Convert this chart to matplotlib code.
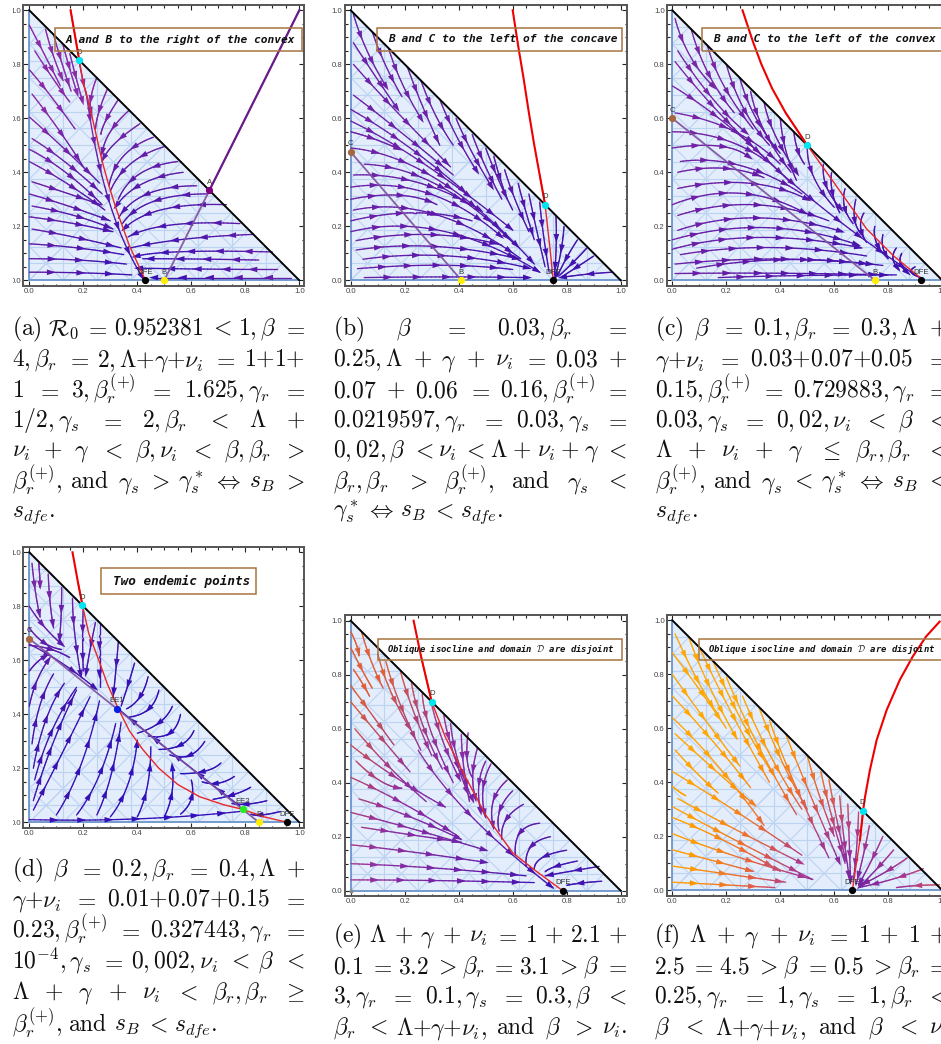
import matplotlib
matplotlib.use('Agg')
import matplotlib.pyplot as plt
import numpy as np
from matplotlib.collections import LineCollection
from matplotlib.colors import LinearSegmentedColormap
from matplotlib.patches import Polygon, Rectangle

W, H = 941, 1044
plt.rcParams['mathtext.fontset'] = 'cm'

# streamlines: start x, y, control x, y, end x, y
streams_a = [
    (0.0,0.945,0.06,0.83,0.115,0.72), (0.02,0.85,0.09,0.74,0.15,0.66), (0.0,0.78,0.07,0.70,0.17,0.56),
    (0.06,0.93,0.085,0.83,0.125,0.74), (0.09,0.91,0.12,0.80,0.155,0.70), (0.125,0.87,0.15,0.78,0.175,0.70),
    (0.15,0.84,0.17,0.76,0.195,0.67), (0.185,0.81,0.20,0.72,0.23,0.62), (0.25,0.75,0.22,0.68,0.225,0.60),
    (0.29,0.71,0.25,0.62,0.245,0.56), (0.33,0.67,0.27,0.58,0.265,0.54), (0.37,0.63,0.28,0.55,0.27,0.47),
    (0.41,0.58,0.29,0.50,0.27,0.44), (0.46,0.53,0.32,0.48,0.295,0.35), (0.50,0.495,0.35,0.45,0.30,0.33),
    (0.55,0.44,0.38,0.42,0.33,0.30), (0.57,0.40,0.40,0.38,0.325,0.28), (0.62,0.35,0.40,0.35,0.33,0.23),
    (0.66,0.32,0.42,0.32,0.345,0.21), (0.73,0.28,0.45,0.29,0.35,0.19), (0.78,0.21,0.48,0.225,0.365,0.16),
    (0.83,0.17,0.55,0.16,0.375,0.12), (0.9,0.105,0.5,0.115,0.40,0.09), (0.85,0.075,0.6,0.08,0.42,0.08),
    (0.92,0.04,0.7,0.04,0.40,0.045), (0.97,0.01,0.68,0.01,0.46,0.01),
    (0.01,0.69,0.12,0.55,0.20,0.42), (0.0,0.605,0.12,0.50,0.26,0.36), (0.01,0.525,0.13,0.45,0.27,0.32),
    (0.0,0.485,0.13,0.42,0.27,0.28), (0.0,0.44,0.15,0.36,0.28,0.26), (0.01,0.365,0.15,0.32,0.267,0.279),
    (0.0,0.32,0.17,0.27,0.30,0.22), (0.01,0.275,0.18,0.245,0.31,0.19), (0.0,0.235,0.16,0.215,0.31,0.18),
    (0.01,0.19,0.18,0.16,0.34,0.12), (0.0,0.135,0.18,0.125,0.35,0.095), (0.0,0.08,0.18,0.08,0.36,0.06),
    (0.0,0.03,0.2,0.03,0.38,0.02), (0.21,0.70,0.27,0.25,0.42,0.01),
]
streams_b = [
    (0.01,0.985,0.05,0.85,0.13,0.72), (0.01,0.88,0.08,0.77,0.17,0.64), (0.08,0.92,0.12,0.80,0.19,0.68),
    (0.14,0.86,0.18,0.73,0.26,0.60), (0.21,0.79,0.26,0.65,0.33,0.50), (0.26,0.74,0.31,0.60,0.38,0.50),
    (0.33,0.67,0.38,0.54,0.47,0.40), (0.39,0.60,0.44,0.48,0.52,0.35), (0.45,0.54,0.49,0.43,0.56,0.30),
    (0.50,0.49,0.54,0.38,0.60,0.26), (0.53,0.46,0.55,0.38,0.58,0.30), (0.57,0.41,0.60,0.31,0.66,0.18),
    (0.62,0.36,0.64,0.28,0.68,0.15), (0.66,0.32,0.68,0.22,0.72,0.05), (0.70,0.29,0.71,0.18,0.735,0.03),
    (0.76,0.24,0.765,0.14,0.755,0.02), (0.79,0.20,0.785,0.12,0.76,0.02), (0.84,0.15,0.80,0.09,0.765,0.015),
    (0.875,0.12,0.83,0.07,0.77,0.015), (0.90,0.09,0.84,0.05,0.78,0.012), (0.97,0.03,0.88,0.025,0.79,0.012),
    (0.01,0.80,0.15,0.64,0.37,0.42), (0.01,0.686,0.15,0.58,0.38,0.39), (0.0,0.633,0.2,0.52,0.42,0.33),
    (0.0,0.59,0.25,0.47,0.60,0.186), (0.0,0.55,0.08,0.53,0.17,0.49), (0.0,0.49,0.32,0.46,0.68,0.06),
    (0.05,0.43,0.32,0.42,0.60,0.14), (0.01,0.39,0.25,0.40,0.48,0.26), (0.0,0.345,0.3,0.39,0.56,0.16),
    (0.0,0.30,0.2,0.34,0.32,0.28), (0.01,0.26,0.3,0.32,0.63,0.08), (0.0,0.22,0.25,0.28,0.45,0.22),
    (0.0,0.18,0.33,0.26,0.70,0.03), (0.02,0.147,0.3,0.20,0.56,0.13), (0.02,0.112,0.3,0.155,0.62,0.08),
    (0.045,0.078,0.35,0.12,0.66,0.045), (0.025,0.043,0.35,0.07,0.60,0.04), (0.05,0.01,0.35,0.015,0.66,0.01),
]
streams_c = [
    (0.17,0.01,0.45,0.02,0.83,0.02), (0.01,0.025,0.35,0.03,0.8,0.02), (0.01,0.06,0.40,0.10,0.78,0.055),
    (0.09,0.045,0.4,0.10,0.73,0.06), (0.03,0.095,0.35,0.15,0.72,0.09), (0.0,0.115,0.3,0.2,0.70,0.12),
    (0.0,0.15,0.35,0.25,0.69,0.13), (0.02,0.185,0.3,0.28,0.63,0.18), (0.02,0.24,0.3,0.33,0.58,0.22),
    (0.0,0.28,0.25,0.38,0.49,0.25), (0.02,0.34,0.3,0.40,0.50,0.30), (0.02,0.40,0.2,0.44,0.34,0.38),
    (0.03,0.44,0.25,0.47,0.48,0.32), (0.0,0.49,0.2,0.52,0.28,0.46), (0.0,0.55,0.2,0.55,0.35,0.44),
    (0.01,0.62,0.25,0.58,0.40,0.43), (0.0,0.72,0.2,0.6,0.44,0.36), (0.01,0.81,0.35,0.38,0.90,0.02),
    (0.02,0.85,0.15,0.65,0.27,0.55), (0.01,0.97,0.05,0.82,0.15,0.72), (0.07,0.93,0.12,0.75,0.23,0.62),
    (0.13,0.87,0.17,0.72,0.30,0.56), (0.20,0.80,0.25,0.62,0.36,0.50), (0.25,0.75,0.29,0.60,0.40,0.47),
    (0.29,0.70,0.32,0.55,0.44,0.40), (0.34,0.66,0.36,0.55,0.46,0.40), (0.40,0.60,0.41,0.48,0.46,0.37),
    (0.45,0.55,0.46,0.47,0.49,0.43), (0.50,0.49,0.50,0.38,0.60,0.27), (0.56,0.43,0.55,0.35,0.62,0.27),
    (0.59,0.40,0.58,0.33,0.62,0.25), (0.64,0.34,0.62,0.27,0.67,0.21), (0.68,0.30,0.66,0.22,0.70,0.17),
    (0.71,0.25,0.68,0.2,0.72,0.14), (0.75,0.20,0.74,0.15,0.78,0.10), (0.78,0.17,0.77,0.12,0.80,0.08),
    (0.83,0.12,0.80,0.08,0.84,0.04), (0.85,0.10,0.83,0.06,0.87,0.03), (0.90,0.05,0.86,0.03,0.92,0.01),
]
streams_d = [
    (0.01,0.96,0.02,0.85,0.04,0.76), (0.035,0.96,0.04,0.90,0.04,0.87), (0.07,0.92,0.075,0.8,0.09,0.72),
    (0.12,0.87,0.12,0.75,0.11,0.66), (0.16,0.83,0.16,0.72,0.19,0.55), (0.20,0.80,0.195,0.68,0.20,0.56),
    (0.245,0.74,0.22,0.62,0.21,0.55), (0.26,0.74,0.26,0.60,0.26,0.50), (0.33,0.67,0.32,0.55,0.31,0.46),
    (0.39,0.59,0.37,0.52,0.34,0.43), (0.0,0.80,0.05,0.72,0.12,0.66), (0.0,0.72,0.05,0.65,0.12,0.64),
    (0.0,0.655,0.08,0.65,0.15,0.61), (0.0,0.66,0.12,0.6,0.24,0.50), (0.78,0.06,0.52,0.26,0.33,0.42),
    (0.0,0.43,0.02,0.53,0.07,0.60), (0.0,0.56,0.03,0.60,0.06,0.615), (0.01,0.29,0.03,0.45,0.09,0.55),
    (0.015,0.20,0.05,0.40,0.13,0.515), (0.02,0.157,0.07,0.35,0.175,0.50), (0.015,0.08,0.08,0.30,0.175,0.49),
    (0.015,0.045,0.12,0.25,0.225,0.465), (0.10,0.027,0.2,0.18,0.26,0.45), (0.175,0.027,0.27,0.15,0.32,0.366),
    (0.25,0.027,0.31,0.15,0.34,0.37), (0.30,0.02,0.38,0.12,0.40,0.30), (0.40,0.02,0.45,0.12,0.45,0.28),
    (0.50,0.02,0.54,0.10,0.53,0.20), (0.56,0.03,0.62,0.08,0.60,0.157), (0.0,0.01,0.4,0.0,0.78,0.04),
    (0.44,0.54,0.42,0.45,0.36,0.42), (0.48,0.49,0.46,0.40,0.37,0.39), (0.53,0.43,0.5,0.36,0.40,0.33),
    (0.56,0.40,0.54,0.3,0.44,0.32), (0.61,0.34,0.58,0.27,0.48,0.27), (0.65,0.30,0.6,0.22,0.52,0.25),
    (0.71,0.22,0.67,0.18,0.56,0.18), (0.76,0.17,0.70,0.13,0.64,0.15), (0.82,0.13,0.77,0.10,0.68,0.085),
    (0.88,0.08,0.8,0.06,0.75,0.07), (0.93,0.04,0.85,0.02,0.82,0.03),
]
streams_e = [
    (0.0,0.96,0.03,0.9,0.03,0.87), (0.04,0.96,0.07,0.85,0.12,0.75), (0.0,0.90,0.05,0.8,0.08,0.75),
    (0.01,0.82,0.05,0.76,0.07,0.72), (0.0,0.76,0.08,0.65,0.16,0.54), (0.0,0.70,0.1,0.58,0.22,0.44),
    (0.1,0.88,0.13,0.75,0.22,0.60), (0.13,0.85,0.17,0.7,0.26,0.52), (0.185,0.81,0.22,0.68,0.30,0.50),
    (0.225,0.77,0.25,0.62,0.34,0.45), (0.265,0.73,0.27,0.62,0.38,0.40), (0.30,0.69,0.33,0.56,0.40,0.42),
    (0.345,0.65,0.36,0.55,0.43,0.37), (0.37,0.62,0.38,0.5,0.45,0.34), (0.41,0.58,0.41,0.48,0.44,0.33),
    (0.435,0.585,0.42,0.47,0.45,0.42), (0.47,0.53,0.44,0.43,0.46,0.35), (0.50,0.48,0.46,0.40,0.48,0.30),
    (0.52,0.47,0.47,0.38,0.50,0.27), (0.58,0.41,0.50,0.34,0.53,0.23), (0.60,0.37,0.53,0.30,0.55,0.22),
    (0.64,0.32,0.55,0.27,0.56,0.19), (0.70,0.25,0.60,0.24,0.61,0.13), (0.74,0.20,0.64,0.18,0.65,0.09),
    (0.80,0.15,0.68,0.13,0.68,0.08), (0.84,0.11,0.74,0.09,0.72,0.07), (0.92,0.09,0.8,0.07,0.72,0.055),
    (0.93,0.035,0.85,0.03,0.80,0.02), (0.015,0.60,0.14,0.45,0.28,0.33), (0.0,0.54,0.15,0.42,0.35,0.31),
    (0.02,0.48,0.12,0.38,0.19,0.38), (0.0,0.42,0.2,0.33,0.40,0.20), (0.03,0.34,0.2,0.29,0.41,0.19),
    (0.0,0.29,0.2,0.24,0.50,0.15), (0.04,0.235,0.2,0.21,0.41,0.18), (0.0,0.17,0.2,0.15,0.50,0.105),
    (0.0,0.10,0.3,0.09,0.65,0.055), (0.0,0.04,0.3,0.04,0.68,0.03), (0.25,0.52,0.4,0.28,0.75,0.01),
]
streams_f = [
    (0.01,0.95,0.1,0.75,0.17,0.65), (0.0,0.88,0.12,0.72,0.2,0.60), (0.0,0.80,0.12,0.63,0.25,0.46),
    (0.0,0.72,0.15,0.56,0.29,0.38), (0.06,0.94,0.12,0.77,0.24,0.56), (0.1,0.9,0.2,0.68,0.36,0.40),
    (0.15,0.85,0.26,0.6,0.38,0.42), (0.2,0.79,0.3,0.55,0.46,0.28), (0.26,0.72,0.35,0.5,0.48,0.3),
    (0.32,0.68,0.4,0.47,0.5,0.3), (0.36,0.63,0.42,0.45,0.58,0.12), (0.42,0.58,0.48,0.42,0.62,0.1),
    (0.5,0.50,0.53,0.38,0.6,0.2), (0.55,0.44,0.58,0.3,0.64,0.1), (0.58,0.41,0.60,0.3,0.64,0.12),
    (0.62,0.35,0.63,0.22,0.655,0.05), (0.65,0.32,0.655,0.2,0.66,0.04), (0.69,0.29,0.685,0.15,0.67,0.03),
    (0.73,0.24,0.71,0.13,0.68,0.02), (0.78,0.2,0.74,0.11,0.69,0.02), (0.82,0.15,0.77,0.09,0.70,0.02),
    (0.87,0.12,0.8,0.07,0.72,0.03), (0.93,0.08,0.83,0.04,0.69,0.01), (0.99,0.02,0.9,0.02,0.83,0.01),
    (0.0,0.64,0.16,0.49,0.34,0.24), (0.01,0.58,0.15,0.45,0.3,0.32), (0.01,0.52,0.1,0.42,0.17,0.36),
    (0.0,0.44,0.2,0.32,0.48,0.13), (0.0,0.385,0.03,0.36,0.05,0.35), (0.02,0.34,0.2,0.24,0.48,0.1),
    (0.0,0.31,0.2,0.2,0.52,0.04), (0.0,0.27,0.2,0.19,0.4,0.07), (0.0,0.21,0.2,0.13,0.52,0.04),
    (0.0,0.15,0.15,0.11,0.3,0.07), (0.0,0.09,0.2,0.06,0.42,0.03), (0.0,0.03,0.2,0.02,0.38,0.01),
]

# red isoclines, from outside the triangle down to the DFE
red_a = [(0.153,1.0),(0.185,0.815),(0.20,0.73),(0.22,0.66),(0.245,0.55),(0.27,0.44),(0.295,0.35),(0.32,0.27),
         (0.345,0.20),(0.37,0.13),(0.40,0.065),(0.43,0.0)]
red_b = [(0.6,1.0),(0.62,0.87),(0.64,0.75),(0.66,0.62),(0.68,0.5),(0.70,0.39),(0.72,0.28),(0.73,0.19),(0.74,0.1),(0.75,0.0)]
red_c = [(0.26,1.0),(0.28,0.94),(0.30,0.88),(0.33,0.80),(0.37,0.71),(0.42,0.62),(0.5,0.5),(0.6,0.36),(0.72,0.19),
         (0.82,0.09),(0.93,0.0)]
red_d = [(0.16,1.0),(0.18,0.89),(0.197,0.803),(0.22,0.70),(0.25,0.62),(0.29,0.51),(0.33,0.42),(0.37,0.34),(0.42,0.27),
         (0.48,0.20),(0.55,0.14),(0.63,0.095),(0.72,0.065),(0.79,0.048),(0.87,0.02),(0.955,0.0)]
red_e = [(0.233,1.0),(0.26,0.87),(0.3,0.7),(0.35,0.57),(0.41,0.45),(0.5,0.28),(0.6,0.14),(0.69,0.07),(0.785,0.0)]
red_f = [(0.99,0.995),(0.94,0.94),(0.89,0.865),(0.843,0.78),(0.794,0.668),(0.757,0.557),(0.732,0.446),(0.714,0.347),
         (0.707,0.297),(0.695,0.186),(0.68,0.088),(0.667,0.0)]

# labelled points: name, x, y, colour
pts_a = [('D',0.185,0.815,'#00e5ee'),('A',0.667,0.333,'#800080'),('DFE',0.43,0.0,'black'),('B',0.5,0.0,'#ffee00')]
pts_b = [('D',0.72,0.28,'#00e5ee'),('C',0.0,0.475,'#a5673f'),('DFE',0.75,0.0,'black'),('B',0.41,0.0,'#ffee00')]
pts_c = [('D',0.5,0.5,'#00e5ee'),('C',0.0,0.6,'#a5673f'),('DFE',0.92,0.0,'black'),('B',0.75,0.0,'#ffee00')]
pts_d = [('D',0.197,0.803,'#00e5ee'),('C',0.0,0.68,'#a5673f'),('EE1',0.325,0.42,'#0a1ee0'),
         ('EE2',0.79,0.048,'#22ee22'),('DFE',0.955,0.0,'black'),('B',0.85,0.0,'#ffee00')]
pts_e = [('',0.0,0.0,'#8a8a8a'),('D',0.3,0.7,'#00e5ee'),('DFE',0.785,0.0,'black')]
pts_f = [('D',0.705,0.295,'#00e5ee'),('DFE',0.665,0.0,'black')]

purple_a = [(1.0,1.0),(0.667,0.333),(0.5,0.0)]
purple_b = [(0.0,0.475),(0.41,0.0)]
purple_c = [(0.0,0.6),(0.75,0.0)]
purple_d = [(0.0,0.68),(0.85,0.0)]

caption_a = [
    r"$\mathrm{(a)}$ $\mathcal{R}_0$ $=$ $0.952381$ $<$ $1,\beta$ $=$",
    r"$4,\beta_r$ $=$ $2,\Lambda{+}\gamma{+}\nu_i$ $=$ $1{+}1{+}$",
    r"$1$ $=$ $3,\beta_r^{(+)}$ $=$ $1.625,\gamma_r$ $=$",
    r"$1/2,\gamma_s$ $=$ $2,\beta_r$ $<$ $\Lambda$ $+$",
    r"$\nu_i$ $+$ $\gamma$ $<$ $\beta,\nu_i$ $<$ $\beta,\beta_r$ $>$",
    r"$\beta_r^{(+)},$ $\mathrm{and}$ $\gamma_s$ $>$ $\gamma_s^*$ $\Leftrightarrow$ $s_B$ $>$",
    r"$s_{dfe}.$",
]
caption_b = [
    r"$\mathrm{(b)}$ $\beta$ $=$ $0.03,\beta_r$ $=$",
    r"$0.25,\Lambda$ $+$ $\gamma$ $+$ $\nu_i$ $=$ $0.03$ $+$",
    r"$0.07$ $+$ $0.06$ $=$ $0.16,\beta_r^{(+)}$ $=$",
    r"$0.0219597,\gamma_r$ $=$ $0.03,\gamma_s$ $=$",
    r"$0,02,\beta$ $<$ $\nu_i$ $<$ $\Lambda$ $+$ $\nu_i$ $+$ $\gamma$ $<$",
    r"$\beta_r,\beta_r$ $>$ $\beta_r^{(+)},$ $\mathrm{and}$ $\gamma_s$ $<$",
    r"$\gamma_s^*$ $\Leftrightarrow$ $s_B$ $<$ $s_{dfe}.$",
]
caption_c = [
    r"$\mathrm{(c)}$ $\beta$ $=$ $0.1,\beta_r$ $=$ $0.3,\Lambda$ $+$",
    r"$\gamma{+}\nu_i$ $=$ $0.03{+}0.07{+}0.05$ $=$",
    r"$0.15,\beta_r^{(+)}$ $=$ $0.729883,\gamma_r$ $=$",
    r"$0.03,\gamma_s$ $=$ $0,02,\nu_i$ $<$ $\beta$ $<$",
    r"$\Lambda$ $+$ $\nu_i$ $+$ $\gamma$ $\leq$ $\beta_r,\beta_r$ $<$",
    r"$\beta_r^{(+)},$ $\mathrm{and}$ $\gamma_s$ $<$ $\gamma_s^*$ $\Leftrightarrow$ $s_B$ $<$",
    r"$s_{dfe}.$",
]
caption_d = [
    r"$\mathrm{(d)}$ $\beta$ $=$ $0.2,\beta_r$ $=$ $0.4,\Lambda$ $+$",
    r"$\gamma{+}\nu_i$ $=$ $0.01{+}0.07{+}0.15$ $=$",
    r"$0.23,\beta_r^{(+)}$ $=$ $0.327443,\gamma_r$ $=$",
    r"$10^{-4},\gamma_s$ $=$ $0,002,\nu_i$ $<$ $\beta$ $<$",
    r"$\Lambda$ $+$ $\gamma$ $+$ $\nu_i$ $<$ $\beta_r,\beta_r$ $\geq$",
    r"$\beta_r^{(+)},$ $\mathrm{and}$ $s_B$ $<$ $s_{dfe}.$",
]
caption_e = [
    r"$\mathrm{(e)}$ $\Lambda$ $+$ $\gamma$ $+$ $\nu_i$ $=$ $1$ $+$ $2.1$ $+$",
    r"$0.1$ $=$ $3.2$ $>$ $\beta_r$ $=$ $3.1$ $>$ $\beta$ $=$",
    r"$3,\gamma_r$ $=$ $0.1,\gamma_s$ $=$ $0.3,\beta$ $<$",
    r"$\beta_r$ $<$ $\Lambda{+}\gamma{+}\nu_i,$ $\mathrm{and}$ $\beta$ $>$ $\nu_i.$",
]
caption_f = [
    r"$\mathrm{(f)}$ $\Lambda$ $+$ $\gamma$ $+$ $\nu_i$ $=$ $1$ $+$ $1$ $+$",
    r"$2.5$ $=$ $4.5$ $>$ $\beta$ $=$ $0.5$ $>$ $\beta_r$ $=$",
    r"$0.25,\gamma_r$ $=$ $1,\gamma_s$ $=$ $1,\beta_r$ $<$",
    r"$\beta$ $<$ $\Lambda{+}\gamma{+}\nu_i,$ $\mathrm{and}$ $\beta$ $<$ $\nu_i$",
]

FAR_BLUE = ['#3510b5', '#5a1aa8', '#8a2ba8']
FAR_ORANGE = ['#6a1fa8', '#a8368f', '#e8653a', '#ff9a05', '#ffa805']
FAR_MIX = ['#3510b5', '#6a1fa8', '#8f2fa0', '#e0603a']

fig = plt.figure(figsize=(W / 100, H / 100), dpi=100)
renderer = fig.canvas.get_renderer()


def bezier(s, n=40):
    t = np.linspace(0, 1, n)[:, None]
    p0, c, p1 = np.array(s[:2]), np.array(s[2:4]), np.array(s[4:])
    return (1 - t)**2 * p0 + 2 * t * (1 - t) * c + t**2 * p1


def draw_triangle(ax):
    tri = Polygon([(0, 0), (1, 0), (0, 1)], closed=True, fc='#e3edfb', ec='none', zorder=1)
    ax.add_patch(tri)
    # region mesh
    segs = []
    for v in np.arange(0, 1, 1 / 16):
        segs.append([(0, v), (1, v)])
    for v in np.arange(0, 1, 1 / 8):
        segs.append([(v, 0), (v, 1)])
        segs.append([(v, 0), (v + 1, 1)])
        segs.append([(0, v), (1 - v, 1)])
        segs.append([(v, 0), (0, v)])
    mesh = LineCollection(segs, colors='#bdd3f2', linewidths=0.8, zorder=2)
    ax.add_collection(mesh)
    mesh.set_clip_path(tri)
    ax.plot([0, 0, 1], [1, 0, 0], color='#6a95cc', lw=1.3, zorder=3, solid_joinstyle='miter')
    ax.plot([0, 1], [1, 0], color='black', lw=1.4, zorder=6)


def draw_stream(ax, s, ref, scale, cmap):
    xy = bezier(s)
    mid = 0.5 * (xy[:-1] + xy[1:])
    d = np.hypot(mid[:, 0] - ref[0], mid[:, 1] - ref[1]) / scale
    cols = cmap(np.clip(d, 0, 1))
    segs = np.stack([xy[:-1], xy[1:]], axis=1)
    ax.add_collection(LineCollection(segs, colors=cols, linewidths=0.95, zorder=4, capstyle='round'))
    # arrowheads every so often along the line
    dist = np.r_[0, np.cumsum(np.hypot(*np.diff(xy, axis=0).T))]
    for a in np.arange(0.07, dist[-1], 0.105):
        i = min(np.searchsorted(dist, a), len(xy) - 2)
        v = xy[i + 1] - xy[i]
        v = v / np.hypot(*v)
        n = np.array([-v[1], v[0]])
        p = xy[i]
        head = [p + 0.028 * v, p - 0.006 * v + 0.0105 * n, p - 0.006 * v - 0.0105 * n]
        ax.add_patch(Polygon(head, closed=True, fc=cols[i], ec='none', zorder=5))


def draw_panel(x0, y0, frame, streams, red, pts, ref, scale, colors, purple=None, box=None):
    # x0, y0 = pixel of data (0, 0); frame = left, right, top, bottom pixels
    left, right, top, bottom = frame
    ax = fig.add_axes([left / W, 1 - bottom / H, (right - left) / W, (bottom - top) / H])
    ax.set_xlim((left - x0) / 270, (right - x0) / 270)
    ax.set_ylim((y0 - bottom) / 270, (y0 - top) / 270)
    ax.set_xticks(np.arange(0, 1.01, 0.2))
    ax.set_yticks(np.arange(0, 1.01, 0.2))
    ax.set_xticks(np.arange(0, 1.01, 0.05), minor=True)
    ax.set_yticks(np.arange(0, 1.01, 0.05), minor=True)
    ax.tick_params(which='both', direction='in', top=True, right=True, width=0.8, color='#222222')
    ax.tick_params(which='major', length=3.5, labelsize=5.6, labelcolor='#444444', pad=1.5)
    ax.tick_params(which='minor', length=1.8)
    for sp in ax.spines.values():
        sp.set_color('#555555')
        sp.set_linewidth(1.4)
    for lab in ax.get_xticklabels() + ax.get_yticklabels():
        lab.set_fontfamily('Liberation Sans')

    draw_triangle(ax)
    cmap = LinearSegmentedColormap.from_list('speed', colors)
    for s in streams:
        draw_stream(ax, s, ref, scale, cmap)

    if purple is not None:
        xp, yp = zip(*purple)
        ax.plot(xp, yp, color='#7d4f9e', lw=1.3, zorder=5, alpha=0.9)
        if len(purple) == 3:
            ax.plot(xp[:2], yp[:2], color='#6a1b8a', lw=1.5, zorder=5)

    # the isocline is heavier outside the triangle
    rx, ry = np.array(red).T
    k = int((rx + ry > 1.0).sum())
    ax.plot(rx[k - 1:], ry[k - 1:], color='#e8262a', lw=1.0, zorder=6)
    ax.plot(rx[:k + 1], ry[:k + 1], color='#ee0000', lw=1.5, zorder=6)

    for name, x, y, col in pts:
        ax.plot([x], [y], 'o', ms=4.2 if name else 2, mfc=col, mec=col, zorder=8, clip_on=False)
        if name:
            ax.text(x, y + 0.017, name, fontsize=5.6, color='#333333', ha='center', va='bottom', zorder=9,
                    family='Liberation Sans')

    if box is not None:
        bl, br, bt, bb, tx, text, size = box
        fig.add_artist(Rectangle((bl / W, 1 - bb / H), (br - bl) / W, (bb - bt) / H, transform=fig.transFigure,
                                 fc='none', ec='#a8743e', lw=1.1, zorder=10))
        fig.text(tx / W, 1 - (bt + bb) / 2 / H, text, fontsize=size, family='DejaVu Sans Mono', style='italic',
                 weight='bold', va='center', ha='left', color='#111111', zorder=11)
    return ax


def draw_caption(lines, x0, x1, baselines, size=17, natural_last=True):
    for i, (line, y) in enumerate(zip(lines, baselines)):
        texts = [fig.text(x0 / W, 1 - y / H, tok, fontsize=size, va='baseline', ha='left', color='#111111')
                 for tok in line.split(' ')]
        widths = [t.get_window_extent(renderer).width for t in texts]
        natural = (natural_last and i == len(lines) - 1) or len(texts) == 1
        gap = 6 if natural else (x1 - x0 - sum(widths)) / (len(texts) - 1)
        x = x0
        for t, w in zip(texts, widths):
            t.set_x(x / W)
            x += w + gap


box_size = 8.1
draw_panel(29.3, 280.3, (23.3, 304.3, 5, 286), streams_a, red_a, pts_a, (0.43, 0.0), 0.75, FAR_BLUE,
           purple=purple_a, box=(55, 301.7, 28, 51, 66, 'A and B to the right of the convex', box_size))
draw_panel(350.7, 280.3, (344.5, 626.7, 5, 286), streams_b, red_b, pts_b, (0.75, 0.0), 0.8, ['#3a10b0', '#5a18a8', '#6d22a8'],
           purple=purple_b, box=(377.3, 622.3, 28, 51, 388.3, 'B and C to the left of the concave', box_size))
draw_panel(672.3, 280.3, (666.7, 948, 5, 286), streams_c, red_c, pts_c, (0.92, 0.0), 1.1, ['#3a10b0', '#5a18a8', '#7a25a5'],
           purple=purple_c, box=(701.7, 950, 28, 51, 712.7, 'B and C to the left of the convex', box_size))
draw_panel(29.3, 822.3, (23.3, 304.3, 546.7, 828), streams_d, red_d, pts_d, (0.5, 0.15), 0.85, ['#2f10c0', '#3a10b0', '#7a25a5'],
           purple=purple_d, box=(101, 255.7, 568.3, 594.3, 113.3, 'Two endemic points', 9.05))
draw_panel(350.7, 890.7, (344.5, 626.7, 615, 896), streams_e, red_e, pts_e, (0.785, 0.0), 1.05, FAR_MIX,
           box=(377.7, 621.7, 639.3, 660, 386.7, r'Oblique isocline and domain $\mathcal{D}$ are disjoint', 6.4))
draw_panel(672.3, 890.3, (666.7, 948, 615, 896), streams_f, red_f, pts_f, (0.665, 0.0), 0.8, FAR_ORANGE,
           box=(699.3, 950, 639.3, 660, 708.3, r'Oblique isocline and domain $\mathcal{D}$ are disjoint', 6.4))

# the left two plots are cropped just through their y tick labels
for top_px, bot_px in [(0, 292), (541, 833)]:
    fig.add_artist(Rectangle((0, 1 - bot_px / H), 12.5 / W, (bot_px - top_px) / H, transform=fig.transFigure,
                             fc='white', ec='none', zorder=20))

row1 = [335, 366, 397, 427, 457, 488, 517]
row2 = [876, 906, 937, 968, 999, 1031]
row3 = [942, 973, 1003, 1034]
draw_caption(caption_a, 12, 305, row1)
draw_caption(caption_b, 333, 627, row1)
draw_caption(caption_c, 655, 948, row1)
draw_caption(caption_d, 12, 305, row2)
draw_caption(caption_e, 333, 627, row3, natural_last=False)
draw_caption(caption_f, 654, 948, row3, natural_last=False)

fig.savefig('out.png', dpi=100)
